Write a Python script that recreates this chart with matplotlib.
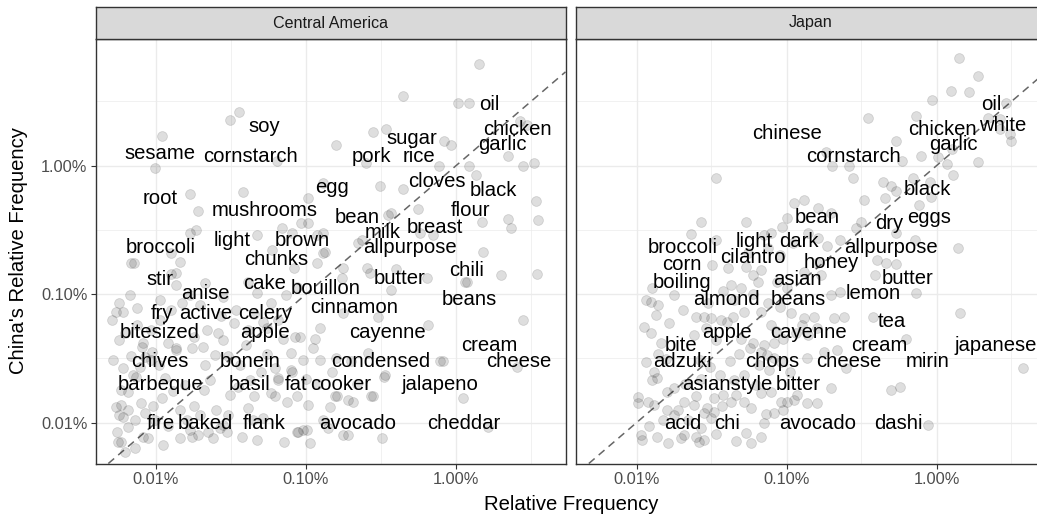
import numpy as np
import matplotlib
matplotlib.use('Agg')
import matplotlib.pyplot as plt
from matplotlib.ticker import FixedLocator, FixedFormatter, NullFormatter

plt.rcParams['font.family'] = ['Liberation Sans', 'DejaVu Sans']

# word labels, relative frequency in percent (x: other cuisine, y: China)
ca_words = ['oil', 'chicken', 'garlic', 'soy', 'sesame', 'cornstarch', 'sugar', 'pork', 'rice', 'cloves',
            'black', 'egg', 'root', 'mushrooms', 'bean', 'flour', 'milk', 'breast', 'broccoli', 'light',
            'brown', 'allpurpose', 'chunks', 'chili', 'stir', 'cake', 'butter', 'bouillon', 'anise', 'beans',
            'cinnamon', 'fry', 'active', 'celery', 'bitesized', 'apple', 'cayenne', 'cream', 'chives', 'bonein',
            'condensed', 'cheese', 'barbeque', 'basil', 'fat', 'cooker', 'jalapeno', 'fire', 'baked', 'flank',
            'avocado', 'cheddar']
ca_word_x = [1.67, 2.56, 2.05, 0.053, 0.0106, 0.0426, 0.509, 0.274, 0.566, 0.746,
             1.77, 0.148, 0.0106, 0.0527, 0.220, 1.25, 0.326, 0.728, 0.0107, 0.0321,
             0.0944, 0.495, 0.0634, 1.18, 0.0106, 0.0527, 0.421, 0.135, 0.0212, 1.23,
             0.210, 0.0110, 0.0213, 0.0532, 0.0106, 0.053, 0.348, 1.67, 0.0106, 0.0426,
             0.314, 2.61, 0.0107, 0.0421, 0.0861, 0.169, 0.785, 0.0107, 0.0212, 0.053,
             0.221, 1.12]
ca_word_y = [3.05, 1.94, 1.48, 2.06, 1.26, 1.19, 1.65, 1.20, 1.19, 0.769,
             0.650, 0.682, 0.561, 0.457, 0.399, 0.457, 0.308, 0.337, 0.236, 0.265,
             0.265, 0.236, 0.187, 0.155, 0.132, 0.122, 0.134, 0.112, 0.102, 0.0923,
             0.0804, 0.0714, 0.0714, 0.0714, 0.0508, 0.0508, 0.0508, 0.0405, 0.0302, 0.0302,
             0.0302, 0.0302, 0.0201, 0.0201, 0.0201, 0.0201, 0.0201, 0.01, 0.01, 0.01,
             0.01, 0.01]

jp_words = ['oil', 'chicken', 'white', 'garlic', 'chinese', 'cornstarch', 'black', 'bean', 'dry', 'eggs',
            'broccoli', 'light', 'dark', 'allpurpose', 'cilantro', 'corn', 'honey', 'asian', 'boiling', 'butter',
            'lemon', 'almond', 'beans', 'tea', 'apple', 'cayenne', 'bite', 'cream', 'japanese', 'adzuki',
            'chops', 'cheese', 'mirin', 'asianstyle', 'bitter', 'acid', 'chi', 'avocado', 'dashi']
jp_word_x = [2.31, 1.10, 2.75, 1.30, 0.1, 0.278, 0.871, 0.161, 0.481, 0.889,
             0.0203, 0.0605, 0.120, 0.498, 0.0598, 0.0200, 0.198, 0.119, 0.0200, 0.641,
             0.380, 0.040, 0.119, 0.501, 0.0401, 0.139, 0.0199, 0.417, 2.49, 0.0203,
             0.0802, 0.259, 0.871, 0.040, 0.120, 0.0203, 0.0401, 0.160, 0.555]
jp_word_y = [3.05, 1.94, 2.10, 1.48, 1.81, 1.19, 0.662, 0.399, 0.358, 0.399,
             0.236, 0.262, 0.262, 0.236, 0.197, 0.173, 0.178, 0.132, 0.124, 0.134,
             0.102, 0.0923, 0.0923, 0.0625, 0.0508, 0.0508, 0.0405, 0.0405, 0.0405, 0.0302,
             0.0302, 0.0302, 0.0302, 0.0201, 0.0201, 0.01, 0.01, 0.01, 0.01]

# jittered points (x %, y %)
ca_points = [
    (1.42, 6.2), (0.44, 3.5), (1.03, 3.1), (1.22, 3.1), (0.036, 2.62), (0.031, 2.27), (0.011, 1.70),
    (0.28, 1.83), (0.34, 1.93), (0.159, 1.45), (0.83, 1.55), (0.93, 1.45), (2.67, 2.23), (2.97, 2.07),
    (2.22, 1.19), (2.80, 0.99), (3.30, 1.05), (0.0099, 0.96), (0.064, 1.09), (0.25, 1.05), (0.77, 0.99),
    (1.22, 1.0), (1.36, 0.85),
    (0.0169, 0.60), (0.038, 0.62), (0.019, 0.44), (0.103, 0.56), (0.13, 0.73), (0.31, 0.69), (0.44, 0.66),
    (0.56, 0.46), (0.35, 0.41), (0.37, 0.43), (3.4, 0.53), (3.5, 0.38), (2.22, 0.385), (2.33, 0.33),
    (1.49, 0.365), (0.575, 0.30), (0.093, 0.36), (0.059, 0.221), (0.081, 0.30), (0.118, 0.289), (0.13, 0.30),
    (0.237, 0.264), (0.222, 0.25), (0.0169, 0.30), (0.0185, 0.316), (0.0125, 0.21), (0.0068, 0.175),
    (0.0145, 0.178), (0.0125, 0.144), (0.0135, 0.147), (1.51, 0.213), (2.0, 0.141), (3.46, 0.144),
    (0.267, 0.146), (0.40, 0.157), (0.083, 0.16), (0.173, 0.134), (0.134, 0.213), (0.047, 0.289),
    (1.15, 0.124), (0.70, 0.289), (0.069, 0.33), (0.103, 0.36),
    (0.0071, 0.175), (0.0135, 0.118), (0.0067, 0.099), (0.0057, 0.085), (0.0054, 0.072), (0.0060, 0.072),
    (0.0075, 0.078), (0.0107, 0.090), (0.0169, 0.099), (0.0197, 0.082), (0.0213, 0.122), (0.028, 0.095),
    (0.041, 0.124), (0.047, 0.102), (0.058, 0.085), (0.073, 0.099), (0.087, 0.113), (0.118, 0.175),
    (0.13, 0.208), (0.177, 0.16), (0.255, 0.16), (0.37, 0.108), (0.64, 0.134), (1.18, 0.124),
    (2.80, 0.063), (0.65, 0.058), (0.30, 0.066), (0.177, 0.071), (0.124, 0.055), (0.0915, 0.046),
    (0.065, 0.063), (0.052, 0.061), (0.055, 0.055), (0.041, 0.053), (0.022, 0.053), (0.0135, 0.038),
    (0.0081, 0.039), (0.0082, 0.042), (0.0057, 0.044), (0.0052, 0.031), (0.006, 0.0265), (0.007, 0.0235),
    (0.0079, 0.0142), (0.0058, 0.018), (0.0054, 0.0133), (0.006, 0.0111), (0.0065, 0.0093),
    (0.0082, 0.0077), (0.0058, 0.0071), (0.0088, 0.0076), (0.0112, 0.0067), (0.0145, 0.0076),
    (0.0169, 0.0088), (0.0197, 0.0115), (0.0223, 0.0085), (0.0268, 0.0091), (0.0298, 0.0085),
    (0.0376, 0.0077), (0.052, 0.0109), (0.071, 0.0071), (0.0873, 0.0085), (0.096, 0.0088),
    (0.107, 0.0069), (0.13, 0.0105), (0.177, 0.008), (0.28, 0.016), (0.33, 0.0226), (0.16, 0.016),
    (0.145, 0.0133), (0.19, 0.015), (0.124, 0.031), (0.096, 0.031), (0.079, 0.0257), (0.065, 0.0215),
    (0.058, 0.0171), (0.78, 0.030), (1.11, 0.0155), (1.64, 0.0093), (0.32, 0.0076), (0.14, 0.0091),
    (0.0135, 0.0368), (0.0205, 0.039), (0.0278, 0.044), (0.085, 0.046), (0.115, 0.045), (0.112, 0.038),
    (0.159, 0.032), (0.26, 0.035), (0.337, 0.0235), (0.82, 0.030), (2.56, 0.027), (0.0058, 0.0137),
    (0.0057, 0.0115), (0.0056, 0.0071), (0.0175, 0.0077), (0.019, 0.008), (0.024, 0.0076),
    (0.028, 0.0096), (0.044, 0.0105), (0.041, 0.013), (0.062, 0.016), (0.075, 0.0145), (0.0873, 0.016),
    (0.103, 0.0137), (0.089, 0.0085), (0.101, 0.0088), (0.047, 0.0073), (0.19, 0.008), (0.156, 0.016),
    (0.27, 0.0162), (0.205, 0.0145), (0.0065, 0.0173), (0.0073, 0.0227), (0.0085, 0.0322),
    (0.0094, 0.0355), (0.0175, 0.038), (0.0249, 0.0337), (0.0213, 0.0281), (0.062, 0.0265),
    (0.081, 0.0248), (0.065, 0.0223), (0.0051, 0.063), (0.0092, 0.0527), (0.0107, 0.063),
    (0.0092, 0.031), (0.0115, 0.0223), (0.0157, 0.0197), (0.0145, 0.0126), (0.0099, 0.0105),
    (0.0062, 0.0059), (0.034, 0.075), (0.0365, 0.028), (0.031, 0.0164), (0.023, 0.0215), (0.0425, 0.0215),
    (0.0065, 0.0125), (0.0072, 0.0105), (0.0085, 0.0118), (0.0095, 0.0135), (0.011, 0.0155),
    (0.012, 0.0095), (0.013, 0.0175), (0.016, 0.0105), (0.018, 0.0135), (0.021, 0.018), (0.025, 0.0125),
    (0.03, 0.0115), (0.035, 0.019), (0.045, 0.016), (0.05, 0.025), (0.055, 0.034), (0.04, 0.04),
    (0.03, 0.033), (0.026, 0.05), (0.018, 0.046), (0.012, 0.042), (0.0105, 0.028), (0.0078, 0.027),
    (0.0068, 0.033), (0.0075, 0.058), (0.0062, 0.05), (0.0125, 0.075), (0.015, 0.085), (0.027, 0.068),
    (0.033, 0.06), (0.045, 0.07), (0.07, 0.045), (0.08, 0.035), (0.1, 0.022), (0.12, 0.02),
    (0.15, 0.025), (0.2, 0.03), (0.22, 0.02), (0.0055, 0.0085), (0.0072, 0.0064),
]

jp_points = [
    (1.42, 6.9), (1.90, 5.0), (1.24, 3.8), (1.65, 3.75), (0.94, 3.25), (2.92, 3.08), (2.22, 2.35),
    (2.67, 2.31), (2.67, 1.94), (3.11, 1.77), (3.16, 1.55), (0.735, 2.42), (0.35, 2.35), (0.533, 1.55),
    (0.79, 1.18), (0.585, 1.09), (1.03, 1.16), (1.17, 1.03), (1.26, 1.35), (1.90, 1.07), (1.29, 0.85),
    (0.70, 0.80), (0.91, 0.75), (0.182, 1.28), (0.20, 0.99), (0.262, 0.99), (0.278, 0.80), (0.0338, 0.80),
    (0.443, 0.74), (0.50, 0.69),
    (0.327, 0.54), (0.457, 0.565), (0.533, 0.64), (0.76, 0.494), (0.92, 0.575), (0.112, 0.51), (0.13, 0.54),
    (0.163, 0.47), (0.197, 0.43), (0.093, 0.335), (0.10, 0.395), (0.054, 0.365), (0.0268, 0.365),
    (0.023, 0.295), (0.0338, 0.264), (0.071, 0.289), (0.0785, 0.30), (0.312, 0.365), (0.29, 0.33),
    (0.533, 0.30), (0.724, 0.264), (1.40, 0.23), (0.185, 0.237), (0.163, 0.275), (0.229, 0.264),
    (0.40, 0.185), (0.46, 0.175), (0.533, 0.172), (0.159, 0.175), (0.032, 0.169), (0.041, 0.16),
    (0.054, 0.162), (0.06, 0.141), (0.068, 0.154), (0.0425, 0.118), (0.0496, 0.112), (0.086, 0.124),
    (0.10, 0.112), (0.13, 0.148), (0.229, 0.104), (0.197, 0.099), (0.169, 0.141), (0.392, 0.141),
    (0.735, 0.102), (0.0115, 0.090), (0.0125, 0.087), (0.014, 0.082), (0.0127, 0.112), (0.0177, 0.099),
    (0.0249, 0.066), (0.028, 0.066), (0.0313, 0.065), (0.0365, 0.063), (0.040, 0.061), (0.044, 0.066),
    (0.052, 0.073), (0.0674, 0.073), (0.0785, 0.0576), (0.107, 0.071), (0.13, 0.065), (0.126, 0.0576),
    (0.152, 0.066), (0.206, 0.065), (0.24, 0.066), (1.44, 0.071), (0.38, 0.066), (0.0112, 0.0553),
    (0.0135, 0.069),
    (0.0125, 0.050), (0.0145, 0.042), (0.034, 0.044), (0.0496, 0.045), (0.06, 0.042), (0.071, 0.040),
    (0.0823, 0.042), (0.0674, 0.0355), (0.074, 0.0337), (0.0823, 0.032), (0.0915, 0.0297), (0.136, 0.032),
    (0.177, 0.0355), (0.216, 0.0368), (0.25, 0.0265), (0.63, 0.045), (3.78, 0.0265), (0.014, 0.0345),
    (0.0157, 0.0315), (0.013, 0.0246), (0.0137, 0.0223), (0.0127, 0.0215), (0.0115, 0.0295),
    (0.0103, 0.0158), (0.012, 0.0145), (0.0103, 0.0142), (0.013, 0.0137), (0.016, 0.0173),
    (0.0177, 0.0186), (0.0207, 0.0145), (0.0241, 0.0137), (0.0328, 0.0155), (0.0294, 0.013),
    (0.038, 0.0164), (0.0425, 0.0145), (0.052, 0.0145), (0.0674, 0.017), (0.0785, 0.0173),
    (0.0915, 0.0145), (0.1, 0.0145), (0.112, 0.015), (0.136, 0.0142), (0.159, 0.0142), (0.197, 0.0186),
    (0.494, 0.018), (0.575, 0.019), (0.016, 0.0126), (0.0177, 0.0115), (0.028, 0.0119), (0.0313, 0.0109),
    (0.0268, 0.0091), (0.0727, 0.0117), (0.071, 0.01), (0.054, 0.0083), (0.0674, 0.0077),
    (0.0107, 0.008), (0.0108, 0.0073), (0.0137, 0.0077), (0.0163, 0.0069), (0.0197, 0.0076),
    (0.0207, 0.008), (0.026, 0.0071), (0.028, 0.0073), (0.88, 0.0096),
    (0.066, 0.028), (0.077, 0.0257), (0.105, 0.0248), (0.052, 0.0235), (0.0265, 0.031), (0.036, 0.0235),
    (0.045, 0.0215),
    (0.0122, 0.0095), (0.015, 0.0105), (0.019, 0.0125), (0.022, 0.0105), (0.025, 0.016), (0.033, 0.012),
    (0.037, 0.0135), (0.046, 0.0165), (0.058, 0.013), (0.063, 0.0195), (0.083, 0.0118), (0.095, 0.0125),
    (0.118, 0.0165), (0.021, 0.02), (0.027, 0.022), (0.031, 0.027), (0.042, 0.03), (0.048, 0.034),
    (0.057, 0.038), (0.085, 0.052), (0.095, 0.045), (0.115, 0.05), (0.14, 0.048), (0.16, 0.055),
    (0.024, 0.048), (0.029, 0.055), (0.0165, 0.06), (0.0205, 0.075), (0.03, 0.085), (0.045, 0.09),
    (0.06, 0.1), (0.075, 0.085), (0.09, 0.08), (0.038, 0.105), (0.065, 0.125), (0.055, 0.21),
    (0.075, 0.23), (0.09, 0.2), (0.11, 0.25), (0.14, 0.3), (0.025, 0.0078), (0.034, 0.0082),
    (0.046, 0.0072), (0.058, 0.0069),
]

tick_vals = [0.01, 0.1, 1]
tick_labels = ['0.01%', '0.10%', '1.00%']
minor_vals = [0.00316, 0.0316, 0.316, 3.16]

W, H = 1037, 518
fig = plt.figure(figsize=(W / 100, H / 100), dpi=100)

def px_rect(x0, y0, x1, y1):
    return [x0 / W, 1 - y1 / H, (x1 - x0) / W, (y1 - y0) / H]

def draw_panel(x0, title, points, words, wx, wy, show_y):
    ax = fig.add_axes(px_rect(x0, 39, x0 + 470, 463.5))
    ax.set_xscale('log')
    ax.set_yscale('log')
    ax.set_xlim(0.00395, 5.37)
    ax.set_ylim(0.00481, 9.68)

    for a in (ax.xaxis, ax.yaxis):
        a.set_major_locator(FixedLocator(tick_vals))
        a.set_major_formatter(FixedFormatter(tick_labels))
        a.set_minor_locator(FixedLocator(minor_vals))
        a.set_minor_formatter(NullFormatter())
    ax.tick_params(which='minor', length=0)
    ax.tick_params(which='major', length=3.6, width=0.8, color='#333333',
                   labelsize=11.8, labelcolor='#4D4D4D', pad=2.2)
    if not show_y:
        ax.tick_params(axis='y', which='both', left=False, labelleft=False)

    ax.grid(which='major', color='#EBEBEB', lw=1.0, zorder=0)
    ax.grid(which='minor', color='#EBEBEB', lw=0.5, zorder=0)
    ax.set_axisbelow(True)
    for s in ax.spines.values():
        s.set_color('#333333')
        s.set_linewidth(1.0)

    ax.axline((0.01, 0.01), (1, 1), color='#666666', lw=1.1, dashes=(5, 3.5), zorder=2)

    pts = np.array(points)
    ax.scatter(pts[:, 0], pts[:, 1], s=50, c='black', alpha=0.13,
               edgecolors='black', linewidths=0.6, zorder=3)

    for w, x, y in zip(words, wx, wy):
        ax.annotate(w, (x, y), xytext=(0, -4.5), textcoords='offset points',
                    ha='center', va='baseline', fontsize=14.6, color='black', zorder=5)

    sax = fig.add_axes(px_rect(x0, 7, x0 + 470, 39))
    sax.set_facecolor('#D9D9D9')
    sax.set_xticks([])
    sax.set_yticks([])
    for s in sax.spines.values():
        s.set_color('#333333')
        s.set_linewidth(1.0)
    sax.text(0.5, 0.5, title, transform=sax.transAxes, ha='center', va='center',
             fontsize=11.6, color='#1A1A1A')
    return ax

draw_panel(95.5, 'Central America', ca_points, ca_words, ca_word_x, ca_word_y, True)
draw_panel(576, 'Japan', jp_points, jp_words, jp_word_x, jp_word_y, False)

fig.text(570.8 / W, 1 - 510 / H, 'Relative Frequency', ha='center', va='baseline',
         fontsize=14.6, color='black')
fig.text(19 / W, 1 - 251 / H, "China's Relative Frequency", ha='center', va='center',
         rotation=90, fontsize=14.6, color='black')

fig.savefig('out.png', dpi=100)
